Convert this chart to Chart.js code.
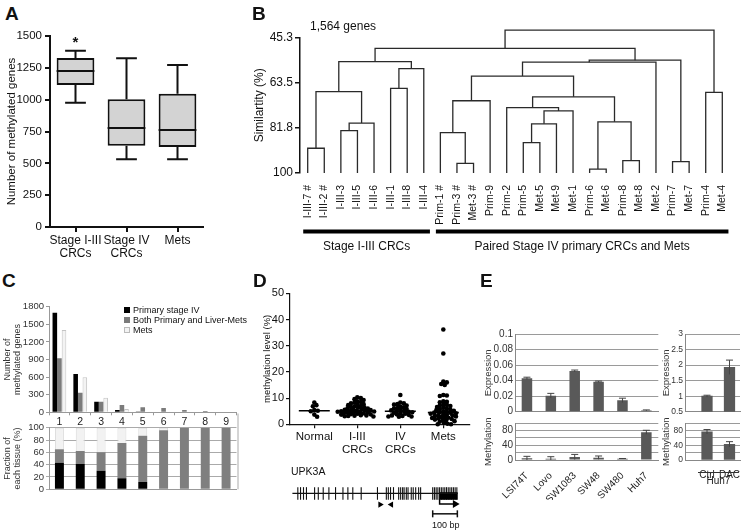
<!DOCTYPE html>
<html>
<head>
<meta charset="utf-8">
<title>Methylation figure</title>
<script src="https://cdn.jsdelivr.net/npm/chart.js@4.4.1/dist/chart.umd.min.js"></script>
<style>
  html, body { margin:0; padding:0; background:#fff; }
  #fig { position:relative; width:743px; height:531px; overflow:hidden; background:#fff;
         font-family:'Liberation Sans', Arial, Helvetica, sans-serif; color:#111; }
  #fig canvas { position:absolute; }
  .txt { position:absolute; white-space:nowrap; line-height:1; }
  .panel { font-weight:bold; font-size:19px; }
  .sw { position:absolute; width:6px; height:6px; box-sizing:border-box; }
</style>
</head>
<body>
<div id="fig">
  <canvas id="cA"></canvas>
  <canvas id="cB"></canvas>
  <canvas id="cCt"></canvas>
  <canvas id="cCb"></canvas>
  <canvas id="cD"></canvas>
  <canvas id="cG"></canvas>
  <canvas id="cE1"></canvas>
  <canvas id="cE2"></canvas>
  <canvas id="cE3"></canvas>
  <canvas id="cE4"></canvas>

  <div class="txt panel" style="left:5px;top:4px">A</div>
  <div class="txt panel" style="left:252px;top:4px">B</div>
  <div class="txt panel" style="left:2px;top:271px">C</div>
  <div class="txt panel" style="left:253px;top:271px">D</div>
  <div class="txt panel" style="left:480px;top:271px">E</div>

  <div class="txt" style="left:310px;top:20px;font-size:12px">1,564 genes</div>

  <div class="sw" style="left:124px;top:307px;background:#000"></div>
  <div class="txt" id="lg0" style="left:133px;top:306px;font-size:9px"></div>
  <div class="sw" style="left:124px;top:317px;background:#7b7b7b"></div>
  <div class="txt" id="lg1" style="left:133px;top:316px;font-size:9px"></div>
  <div class="sw" style="left:124px;top:327px;background:#f3f3f3;border:1px solid #bbb"></div>
  <div class="txt" id="lg2" style="left:133px;top:326px;font-size:9px"></div>

  <div class="txt" id="geneLbl" style="left:291px;top:466px;font-size:10.5px"></div>
  <div class="txt" style="left:432px;top:521px;font-size:9px">100 bp</div>
</div>
<script>
// ================= DATA =================
// Panel A – box plot
const boxCategories = [["Stage I-III", "CRCs"], ["Stage IV", "CRCs"], ["Mets"]];
const boxMin    = [976, 532, 532];
const boxQ1     = [1115, 638, 628];
const boxMedian = [1225, 777, 762];
const boxQ3     = [1327, 1003, 1047];
const boxMax    = [1385, 1325, 1272];
const boxSignif = ["*", "", ""];

// Panel B – dendrogram
const leafLabels = ["I-III-7 #","I-III-2 #","I-III-3","I-III-5","I-III-6","I-III-1","I-III-8","I-III-4",
  "Prim-1 #","Prim-3 #","Met-3 #","Prim-9","Prim-2","Prim-5","Met-5","Met-9","Met-1",
  "Prim-6","Met-6","Prim-8","Met-8","Met-2","Prim-7","Met-7","Prim-4","Met-4"];
const mergeLeft   = [0, 2, 27, 26, 5, 30, 29, 9, 8, 34, 13, 36, 37, 12, 17, 19, 40, 39, 35, 44, 22, 45, 32, 24, 48];
const mergeRight  = [1, 3, 4, 28, 6, 7, 31, 10, 33, 11, 14, 15, 16, 38, 18, 20, 41, 42, 43, 21, 23, 46, 47, 25, 49];
const mergeHeight = [90.0, 82.9, 79.8, 67.1, 65.8, 57.8, 55.0, 96.1, 83.7, 70.8, 87.7, 80.1, 74.9, 73.6,
  98.4, 95.0, 79.3, 69.2, 60.8, 55.2, 95.4, 54.4, 49.6, 67.4, 42.2];
const simTicks = [45.3, 63.5, 81.8, 100];
const groupLabels = ["Stage I-III CRCs", "Paired Stage IV primary CRCs and Mets"];
const groupFirst = [0, 8];
const groupLast  = [7, 25];

// Panel C
const cCategories = ["1","2","3","4","5","6","7","8","9"];
const cSeries  = ["Primary stage IV", "Both Primary and Liver-Mets", "Mets"];
const cPrimary = [1698, 653, 181, 39, 14, 0, 0, 0, 0];
const cBoth    = [920, 334, 181, 124, 85, 73, 39, 22, 8];
const cMets    = [1403, 597, 249, 56, 15, 3, 0, 0, 0];
const fracPrimary = [43, 41, 30, 18, 12, 0, 0, 0, 0];
const fracBoth    = [22, 21, 30, 57, 75, 96, 100, 100, 100];
const fracMets    = [35, 38, 40, 25, 13, 4, 0, 0, 0];

// Panel D – methylation levels
const dGroups = [["Normal"], ["I-III", "CRCs"], ["IV", "CRCs"], ["Mets"]];
const dNormal  = [8.3, 7.3, 6.9, 5.4, 5.2, 5.0, 3.7, 2.9];
const dStage13 = [10.3, 10.0, 9.6, 9.3, 8.8, 8.5, 8.2, 8.0, 7.7, 7.5, 7.3, 7.0, 6.8, 6.6, 6.5, 6.3, 6.1, 6.0,
  5.8, 5.7, 5.5, 5.4, 5.3, 5.2, 5.1, 5.0, 4.9, 4.8, 4.7, 4.6, 4.5, 4.4, 4.3, 4.2, 4.0, 3.9, 3.8, 3.7, 3.5,
  3.4, 3.3, 3.2, 3.1, 3.0];
const dStage4  = [11.2, 8.3, 8.0, 7.7, 7.5, 7.2, 6.8, 6.5, 6.2, 6.0, 5.8, 5.5, 5.3, 5.1, 5.0, 4.8, 4.6, 4.4,
  4.2, 4.0, 3.8, 3.6, 3.4, 3.2, 3.0, 3.0, 2.9];
const dMets    = [36.2, 27.0, 16.3, 16.0, 15.4, 15.0, 11.2, 11.0, 10.8, 8.8, 8.6, 8.4, 7.5, 7.4, 7.2, 7.0,
  6.6, 6.3, 6.0, 5.8, 5.6, 5.4, 5.2, 5.0, 4.8, 4.6, 4.5, 4.4, 4.2, 4.0, 3.8, 3.6, 3.5, 3.4, 3.2, 3.0, 2.8,
  2.6, 2.5, 2.4, 2.2, 2.0, 1.8, 1.6, 1.5, 1.2, 1.0, 0.5, 0.2, 0.0, 0.0];
const dMedians = [5.2, 5.2, 5.0, 4.5];

// Panel D – UPK3A promoter map (bp)
const geneName = "UPK3A";
const geneLength = 670;
const cpgPositions = [22, 33, 45, 57, 90, 105, 125, 148, 175, 205, 225, 245, 279, 345, 381, 389, 398, 410,
  431, 439, 447, 453, 462, 469, 482, 490, 500, 512, 520, 569, 576, 583, 590, 597, 604, 611, 618, 625, 632,
  639, 646, 653, 660, 667];
const exonStart = 597, exonEnd = 670, tssPos = 597, arrowEnd = 660;
const primerFwd = 356, primerRev = 401;
const scaleBarStart = 569, scaleBarLength = 100;

// Panel E
const eLines    = ["LSI74T", "Lovo", "SW1083", "SW48", "SW480", "Huh7"];
const eExpr     = [0.0429, 0.0206, 0.0524, 0.0386, 0.0146, 0.0017];
const eExprErr  = [0.0015, 0.0030, 0.0012, 0.0008, 0.0028, 0.0006];
const eMeth     = [4.5, 3.6, 8.2, 6.4, 3.6, 75.5];
const eMethErr  = [5.5, 5.4, 7.0, 4.5, 0.5, 5.5];
const eTreat        = ["Ctrl", "DAC"];
const eTreatCell    = "Huh7";
const eTreatExpr    = [1.0, 1.93];
const eTreatExprErr = [0.03, 0.23];
const eTreatMeth    = [77, 43];
const eTreatMethErr = [6, 7];
const eExprTicks      = [0, 0.02, 0.04, 0.06, 0.08, 0.1];
const eTreatExprTicks = [0.5, 1, 1.5, 2, 2.5, 3];
const eMethTicks      = [0, 20, 40, 60, 80, 100];
const eMethLabelled   = [0, 40, 80];

// ================= HELPERS =================
const FONT = "'Liberation Sans', Arial, Helvetica, sans-serif";
Chart.defaults.font.family = FONT;
Chart.defaults.color = '#222';
Chart.defaults.animation = false;
Chart.defaults.plugins.legend.display = false;
Chart.defaults.plugins.tooltip.enabled = false;

document.getElementById('lg0').textContent = cSeries[0];
document.getElementById('lg1').textContent = cSeries[1];
document.getElementById('lg2').textContent = cSeries[2];
document.getElementById('geneLbl').textContent = geneName;

function place(id, box) {
  const c = document.getElementById(id);
  c.width = box.width; c.height = box.height;
  c.style.left = box.left + 'px'; c.style.top = box.top + 'px';
  c.style.width = box.width + 'px'; c.style.height = box.height + 'px';
  return c;
}
function zeroPad(s) { s.paddingLeft = 0; s.paddingRight = 0; s.paddingTop = 0; s.paddingBottom = 0; }
function frame(box, plot, hideX, hideY) {
  const xH = box.top + box.height - plot.b;
  const yW = plot.l - box.left;
  return {
    padding: { top: plot.t - box.top, right: box.left + box.width - plot.r,
               left: hideY ? yW : 0, bottom: hideX ? xH : 0 },
    xFit: s => { s.height = xH; zeroPad(s); },
    yFit: s => { s.width = yW; zeroPad(s); }
  };
}
const base = { responsive: false, devicePixelRatio: 1, animation: false };
const plain = v => String(Math.round(v * 1000) / 1000);

// ================= PANEL A =================
const boxPlugin = {
  id: 'boxWhiskers',
  afterDatasetsDraw(chart) {
    const { ctx, scales: { y } } = chart;
    const meta = chart.getDatasetMeta(0);
    ctx.save();
    ctx.strokeStyle = '#111'; ctx.lineWidth = 2;
    meta.data.forEach((bar, i) => {
      const cx = bar.x, w = bar.width, cap = w * 0.55;
      const yMin = y.getPixelForValue(boxMin[i]), yMax = y.getPixelForValue(boxMax[i]);
      const yQ1 = y.getPixelForValue(boxQ1[i]), yQ3 = y.getPixelForValue(boxQ3[i]);
      const yMed = y.getPixelForValue(boxMedian[i]);
      ctx.beginPath();
      ctx.moveTo(cx, yQ3); ctx.lineTo(cx, yMax);
      ctx.moveTo(cx - cap / 2, yMax); ctx.lineTo(cx + cap / 2, yMax);
      ctx.moveTo(cx, yQ1); ctx.lineTo(cx, yMin);
      ctx.moveTo(cx - cap / 2, yMin); ctx.lineTo(cx + cap / 2, yMin);
      ctx.moveTo(cx - w / 2, yMed); ctx.lineTo(cx + w / 2, yMed);
      ctx.stroke();
      if (boxSignif[i]) {
        ctx.fillStyle = '#111';
        ctx.font = "bold 15px " + FONT;
        ctx.textAlign = 'center'; ctx.textBaseline = 'top';
        ctx.fillText(boxSignif[i], cx, yMax - 15);
      }
    });
    ctx.restore();
  }
};
(function () {
  const box = { left: 0, top: 26, width: 206, height: 238 };
  const f = frame(box, { l: 50, t: 36, r: 203, b: 227 });
  new Chart(place('cA', box), {
    type: 'bar',
    data: { labels: boxCategories, datasets: [{
      data: boxQ1.map((q, i) => [q, boxQ3[i]]),
      backgroundColor: '#d3d3d3', borderColor: '#111', borderWidth: 2, borderSkipped: false,
      barPercentage: 0.74, categoryPercentage: 1 }] },
    options: { ...base, layout: { padding: f.padding },
      scales: {
        x: { grid: { drawOnChartArea: false, offset: false, tickLength: 5, color: '#111', lineWidth: 2 },
             border: { color: '#111', width: 2 },
             ticks: { font: { size: 12, lineHeight: 1.1 }, color: '#111', padding: 2, maxRotation: 0, minRotation: 0, autoSkip: false },
             afterFit: f.xFit },
        y: { min: 0, max: 1500,
             ticks: { stepSize: 250, font: { size: 11.5 }, color: '#111', padding: 3, autoSkip: false, callback: plain },
             grid: { drawOnChartArea: false, tickLength: 5, color: '#111', lineWidth: 2 },
             border: { color: '#111', width: 2 },
             title: { display: true, text: 'Number of methylated genes', font: { size: 11.5 }, color: '#111',
                      padding: { top: 5, bottom: 0 } },
             afterFit: f.yFit }
      } },
    plugins: [boxPlugin]
  });
})();

// ================= PANEL B =================
(function () {
  const nodeX = leafLabels.map((_, i) => i);
  const nodeH = leafLabels.map(() => 100);
  const sets = [];
  mergeLeft.forEach((l, k) => {
    const r = mergeRight[k], h = mergeHeight[k];
    sets.push({ data: [{ x: nodeX[l], y: nodeH[l] }, { x: nodeX[l], y: h }, { x: nodeX[r], y: h }, { x: nodeX[r], y: nodeH[r] }],
      showLine: true, borderColor: '#2a2a2a', borderWidth: 1.3, pointRadius: 0, tension: 0, clip: false });
    nodeX.push((nodeX[l] + nodeX[r]) / 2); nodeH.push(h);
  });
  const groupPlugin = {
    id: 'groups',
    afterDraw(chart) {
      const { ctx, scales: { x }, chartArea } = chart;
      ctx.save();
      groupLabels.forEach((g, i) => {
        const x0 = x.getPixelForValue(groupFirst[i] - 0.27), x1 = x.getPixelForValue(groupLast[i] + 0.37);
        ctx.fillStyle = '#000';
        ctx.fillRect(x0, chartArea.bottom + 56.5, x1 - x0, 4);
        ctx.font = "12px " + FONT; ctx.textAlign = 'center'; ctx.textBaseline = 'middle'; ctx.fillStyle = '#111';
        ctx.fillText(g, (x0 + x1) / 2, chartArea.bottom + 73.5);
      });
      ctx.restore();
    }
  };
  const box = { left: 200, top: 18, width: 543, height: 242 };
  const f = frame(box, { l: 300, t: 37.7, r: 729, b: 173 });
  new Chart(place('cB', box), {
    type: 'scatter',
    data: { datasets: sets },
    options: { ...base, layout: { padding: f.padding },
      scales: {
        x: { type: 'linear', min: -0.464, max: 25.404,
             afterBuildTicks: a => { a.ticks = leafLabels.map((_, i) => ({ value: i })); },
             ticks: { autoSkip: false, minRotation: 90, maxRotation: 90, padding: 4, color: '#111',
                      font: { family: "'Liberation Sans Narrow', 'Liberation Sans', Arial, sans-serif", size: 10.5 },
                      callback: v => leafLabels[v] },
             grid: { display: false }, border: { display: false }, afterFit: f.xFit },
        y: { reverse: true, min: 45.3, max: 100,
             afterBuildTicks: a => { a.ticks = simTicks.map(v => ({ value: v })); },
             ticks: { font: { size: 12 }, padding: 2, color: '#111', autoSkip: false, callback: v => String(v) },
             grid: { drawOnChartArea: false, tickLength: 5, color: '#111', lineWidth: 1.5 },
             border: { color: '#111', width: 1.5 },
             title: { display: true, text: 'Similartity (%)', font: { size: 12 }, color: '#111',
                      padding: { top: 52, bottom: 0 } },
             afterFit: f.yFit }
      } },
    plugins: [groupPlugin]
  });
})();

// ================= PANEL C (top) =================
(function () {
  const box = { left: 0, top: 296, width: 240, height: 132 };
  const f = frame(box, { l: 49, t: 306.7, r: 236.5, b: 412.3 });
  const common = { categoryPercentage: 0.66, barPercentage: 1 };
  new Chart(place('cCt', box), {
    type: 'bar',
    data: { labels: cCategories, datasets: [
      { ...common, data: cPrimary, backgroundColor: '#000' },
      { ...common, data: cBoth, backgroundColor: '#7b7b7b' },
      { ...common, data: cMets, backgroundColor: '#f3f3f3', borderColor: '#c4c4c4',
        borderWidth: c => (c.raw > 0 ? 1 : 0) } ] },
    options: { ...base, layout: { padding: f.padding },
      scales: {
        x: { grid: { drawOnChartArea: false, tickLength: 3, color: '#999' }, border: { color: '#999' },
             ticks: { font: { size: 10.5 }, color: '#222', padding: 1, maxRotation: 0, autoSkip: false }, afterFit: f.xFit },
        y: { min: 0, max: 1800,
             ticks: { stepSize: 300, font: { size: 9.5 }, color: '#333', padding: 2, autoSkip: false, callback: plain },
             grid: { drawOnChartArea: false, tickLength: 3, color: '#999' }, border: { color: '#999' },
             title: { display: true, text: ['Number of', 'methylated genes'], font: { size: 9, lineHeight: 1.05 },
                      color: '#333', padding: { top: 3, bottom: 0 } },
             afterFit: f.yFit }
      } }
  });
})();

// ================= PANEL C (bottom) =================
(function () {
  const box = { left: 0, top: 413, width: 242, height: 82 };
  const f = frame(box, { l: 49, t: 427.7, r: 236.5, b: 489.3 });
  const common = { categoryPercentage: 1, barPercentage: 0.43 };
  const framePlugin = {
    id: 'rightBorder',
    afterDraw(chart) {
      const { ctx, chartArea } = chart;
      ctx.save(); ctx.strokeStyle = '#aaa'; ctx.lineWidth = 1;
      ctx.beginPath(); ctx.moveTo(chartArea.right + 1.5, 0.5); ctx.lineTo(chartArea.right + 1.5, chartArea.bottom);
      ctx.stroke(); ctx.restore();
    }
  };
  new Chart(place('cCb', box), {
    type: 'bar',
    data: { labels: cCategories, datasets: [
      { ...common, data: fracPrimary, backgroundColor: '#000' },
      { ...common, data: fracBoth, backgroundColor: '#7f7f7f' },
      { ...common, data: fracMets, backgroundColor: '#f2f2f2', borderColor: '#dadada',
        borderWidth: c => (c.raw > 0 ? 1 : 0) } ] },
    options: { ...base, layout: { padding: f.padding },
      scales: {
        x: { stacked: true, ticks: { display: false }, grid: { display: false }, border: { color: '#999' },
             afterFit: f.xFit },
        y: { stacked: true, min: 0, max: 100,
             ticks: { stepSize: 20, font: { size: 9.5 }, color: '#333', padding: 2, autoSkip: false, callback: plain },
             grid: { color: '#aaa', tickLength: 3 }, border: { color: '#999' },
             title: { display: true, text: ['Fraction of', 'each tissue (%)'], font: { size: 9, lineHeight: 1.05 },
                      color: '#333', padding: { top: 3, bottom: 0 } },
             afterFit: f.yFit }
      } },
    plugins: [framePlugin]
  });
})();

// ================= PANEL D (scatter) =================
function swarm(values, center) {
  const PX = 43, PY = 2.62, D = 3.1;
  const placed = [];
  const sorted = values.slice().sort((a, b) => b - a);
  return sorted.map(v => {
    const py = v * PY;
    for (let k = 0; k < 400; k++) {
      const off = k === 0 ? 0 : (k % 2 ? 1 : -1) * Math.ceil(k / 2) * 0.7;
      if (placed.every(p => (p[0] - off) ** 2 + (p[1] - py) ** 2 >= D * D)) {
        placed.push([off, py]);
        return { x: center + off / PX, y: v };
      }
    }
    return { x: center, y: v };
  });
}
(function () {
  const groups = [dNormal, dStage13, dStage4, dMets];
  const sets = groups.map((vals, gi) => ({
    data: swarm(vals, gi), pointRadius: 2.3, pointBackgroundColor: '#000', pointBorderWidth: 0, clip: false }));
  dMedians.forEach((m, gi) => sets.push({
    type: 'line', data: [{ x: gi - 0.36, y: m }, { x: gi + 0.36, y: m }],
    borderColor: '#000', borderWidth: 1.6, pointRadius: 0 }));
  const box = { left: 245, top: 284, width: 235, height: 176 };
  const f = frame(box, { l: 290, t: 293.3, r: 470, b: 424.3 });
  new Chart(place('cD', box), {
    type: 'scatter',
    data: { datasets: sets },
    options: { ...base, layout: { padding: f.padding },
      scales: {
        x: { type: 'linear', min: -0.565, max: 3.62,
             afterBuildTicks: a => { a.ticks = dGroups.map((_, i) => ({ value: i })); },
             ticks: { autoSkip: false, maxRotation: 0, font: { size: 11.5, lineHeight: 1.15 }, color: '#111', padding: 2,
                      callback: v => dGroups[v] },
             grid: { drawOnChartArea: false, tickLength: 4, color: '#111', lineWidth: 1.2 },
             border: { color: '#111', width: 1.2 }, afterFit: f.xFit },
        y: { min: 0, max: 50,
             ticks: { stepSize: 10, font: { size: 11 }, color: '#111', padding: 2, autoSkip: false, callback: plain },
             grid: { drawOnChartArea: false, tickLength: 4, color: '#111', lineWidth: 1.2 },
             border: { color: '#111', width: 1.2 },
             title: { display: true, text: 'methylation level (%)', font: { size: 9.5 }, color: '#111',
                      padding: { top: 17, bottom: 0 } },
             afterFit: f.yFit }
      } }
  });
})();

// ================= PANEL D (gene map) =================
(function () {
  const box = { left: 285, top: 476, width: 180, height: 50 };
  const f = frame(box, { l: 290.7, t: 478, r: 458.3, b: 520 }, true, true);
  new Chart(place('cG', box), {
    type: 'scatter',
    data: { datasets: [
      { type: 'line', data: [{ x: 0, y: 0 }, { x: geneLength, y: 0 }], borderColor: '#111', borderWidth: 1.3, pointRadius: 0, clip: false },
      { type: 'line', data: [{ x: exonStart, y: -0.5 }, { x: exonEnd, y: -0.5 }], borderColor: '#000', borderWidth: 7.5,
        borderCapStyle: 'butt', pointRadius: 0, clip: false },
      { data: cpgPositions.map(p => ({ x: p, y: 0 })), pointStyle: 'line', pointRotation: 90, pointRadius: 6.3,
        pointBorderColor: '#111', pointBorderWidth: 1.1, clip: false },
      { type: 'line', data: [{ x: tssPos, y: -1.1 }, { x: tssPos, y: -2.1 }, { x: arrowEnd, y: -2.1 }],
        borderColor: '#000', borderWidth: 1.5, pointRadius: [0, 0, 4.5], pointStyle: 'triangle', pointRotation: 90,
        pointBackgroundColor: '#000', pointBorderWidth: 0, clip: false },
      { data: [{ x: primerFwd, y: -2.2 }], pointStyle: 'triangle', pointRotation: 90, pointRadius: 3.6,
        pointBackgroundColor: '#000', pointBorderWidth: 0, clip: false },
      { data: [{ x: primerRev, y: -2.2 }], pointStyle: 'triangle', pointRotation: -90, pointRadius: 3.6,
        pointBackgroundColor: '#000', pointBorderWidth: 0, clip: false },
      { type: 'line', data: [{ x: scaleBarStart, y: -4.05 }, { x: scaleBarStart + scaleBarLength, y: -4.05 }],
        borderColor: '#111', borderWidth: 1.5, pointStyle: 'line', pointRotation: 90, pointRadius: 3.5,
        pointBorderColor: '#111', pointBorderWidth: 1.5, clip: false } ] },
    options: { ...base, layout: { padding: f.padding },
      scales: { x: { type: 'linear', min: 0, max: geneLength, display: false },
                y: { min: -5, max: 2, display: false } } }
  });
})();

// ================= PANEL E =================
const errPlugin = {
  id: 'errBars',
  afterDatasetsDraw(chart) {
    const { ctx } = chart; const y = chart.scales.y;
    chart.data.datasets.forEach((ds, di) => {
      if (!ds.errors) return;
      chart.getDatasetMeta(di).data.forEach((bar, i) => {
        const raw = ds.data[i]; const v = typeof raw === 'object' ? raw.y : raw;
        const e = ds.errors[i]; if (!e) return;
        const yT = y.getPixelForValue(v + e), yB = y.getPixelForValue(Math.max(v - e, y.min));
        ctx.save(); ctx.strokeStyle = '#444'; ctx.lineWidth = 1;
        ctx.beginPath(); ctx.moveTo(bar.x, yT); ctx.lineTo(bar.x, yB);
        ctx.moveTo(bar.x - 3.5, yT); ctx.lineTo(bar.x + 3.5, yT); ctx.stroke(); ctx.restore();
      });
    });
  }
};
const GRID = '#9a9a9a';
function eY(min, max, tickVals, title, pad, fit, cb, fs) {
  return { min, max,
    afterBuildTicks: a => { a.ticks = tickVals.map(v => ({ value: v })); },
    ticks: { font: { size: fs }, color: '#333', padding: 2, autoSkip: false, callback: cb },
    grid: { color: GRID, drawTicks: false }, border: { color: '#888' },
    title: { display: true, text: title, font: { size: 9.5 }, color: '#333', padding: { top: pad, bottom: 0 } },
    afterFit: fit };
}
const fmtSmall = v => { const r = Math.round(v * 100) / 100; return r === 0 ? '0' : String(r); };
const fmtHalf = v => String(Math.round(v * 10) / 10);
const fmtMeth = v => { const r = Math.round(v); return eMethLabelled.includes(r) ? String(r) : ''; };

(function () {
  const box = { left: 482, top: 326, width: 180, height: 88 };
  const f = frame(box, { l: 515, t: 334, r: 658.3, b: 411.7 });
  new Chart(place('cE1', box), {
    type: 'bar',
    data: { labels: eLines, datasets: [{ data: eExpr, errors: eExprErr, backgroundColor: '#595959',
      barPercentage: 0.44, categoryPercentage: 1 }] },
    options: { ...base, layout: { padding: f.padding },
      scales: { x: { ticks: { display: false }, grid: { display: false }, border: { color: '#888' }, afterFit: f.xFit },
                y: eY(0, 0.1, eExprTicks, 'Expression', 0.5, f.yFit, fmtSmall, 10) } },
    plugins: [errPlugin]
  });
})();
(function () {
  const box = { left: 482, top: 418, width: 182, height: 82 };
  const f = frame(box, { l: 515, t: 423.3, r: 658.3, b: 460 });
  new Chart(place('cE2', box), {
    type: 'bar',
    data: { labels: eLines, datasets: [{ data: eMeth, errors: eMethErr, backgroundColor: '#595959',
      barPercentage: 0.44, categoryPercentage: 1 }] },
    options: { ...base, layout: { padding: f.padding },
      scales: { x: { ticks: { minRotation: 45, maxRotation: 45, autoSkip: false, font: { size: 10 }, color: '#222', padding: 2 },
                     grid: { display: false }, border: { color: '#888' }, afterFit: f.xFit },
                y: eY(0, 100, eMethTicks, 'Methylation', 0.5, f.yFit, fmtMeth, 10) } },
    plugins: [errPlugin]
  });
})();
(function () {
  const box = { left: 660, top: 326, width: 83, height: 88 };
  const f = frame(box, { l: 685, t: 334, r: 740, b: 411.7 });
  new Chart(place('cE3', box), {
    type: 'bar',
    data: { datasets: [{ data: eTreatExpr.map((v, i) => ({ x: i, y: v })), errors: eTreatExprErr,
      backgroundColor: '#595959', barThickness: 10.6 }] },
    options: { ...base, layout: { padding: f.padding },
      scales: { x: { type: 'linear', offset: false, min: -0.978, max: 1.467, ticks: { display: false }, grid: { display: false },
                     border: { color: '#888' }, afterFit: f.xFit },
                y: eY(0.5, 3, eTreatExprTicks, 'Expression', 0.5, f.yFit, fmtHalf, 8.5) } },
    plugins: [errPlugin]
  });
})();
(function () {
  const box = { left: 660, top: 418, width: 83, height: 75 };
  const f = frame(box, { l: 685, t: 423.3, r: 740, b: 460 });
  const bracket = {
    id: 'bracket',
    afterDraw(chart) {
      const { ctx, scales: { x }, chartArea } = chart;
      const x0 = x.getPixelForValue(-0.4), x1 = x.getPixelForValue(1.42);
      ctx.save(); ctx.strokeStyle = '#333'; ctx.lineWidth = 1;
      ctx.beginPath(); ctx.moveTo(x0, chartArea.bottom + 12.5); ctx.lineTo(x1, chartArea.bottom + 12.5); ctx.stroke();
      ctx.fillStyle = '#222'; ctx.font = "10px " + FONT; ctx.textAlign = 'center'; ctx.textBaseline = 'middle';
      ctx.fillText(eTreatCell, (x0 + x1) / 2, chartArea.bottom + 21);
      ctx.restore();
    }
  };
  new Chart(place('cE4', box), {
    type: 'bar',
    data: { datasets: [{ data: eTreatMeth.map((v, i) => ({ x: i, y: v })), errors: eTreatMethErr,
      backgroundColor: '#595959', barThickness: 10.6 }] },
    options: { ...base, layout: { padding: f.padding },
      scales: { x: { type: 'linear', offset: false, min: -0.978, max: 1.467,
                     afterBuildTicks: a => { a.ticks = eTreat.map((_, i) => ({ value: i })); },
                     ticks: { autoSkip: false, maxRotation: 0, font: { size: 10 }, color: '#222', padding: 1,
                              callback: v => eTreat[v] },
                     grid: { display: false }, border: { color: '#888' }, afterFit: f.xFit },
                y: eY(0, 100, eMethTicks, 'Methylation', 0.5, f.yFit, fmtMeth, 8.5) } },
    plugins: [errPlugin, bracket]
  });
})();
</script>
</body>
</html>
